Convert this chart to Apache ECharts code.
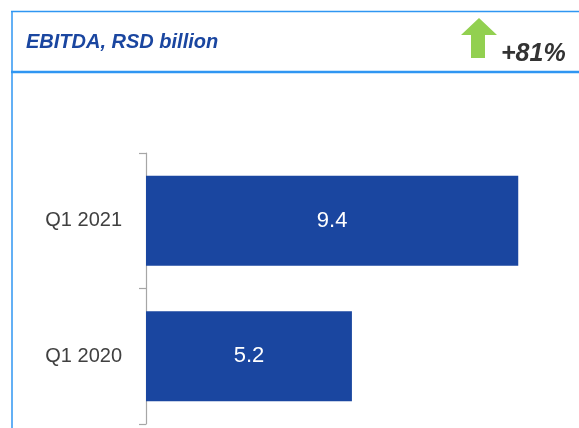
<!DOCTYPE html>
<html>
<head>
<meta charset="utf-8">
<script src="https://cdn.jsdelivr.net/npm/echarts@6/dist/echarts.min.js"></script>
<style>
html,body{margin:0;padding:0;background:#fff;}
#main{width:579px;height:428px;}
</style>
</head>
<body>
<div id="main"></div>
<script>
var categories = ['Q1 2020', 'Q1 2021'];
var values = [5.2, 9.4];
var titleText = 'EBITDA, RSD billion';
var changeText = '+81%';

var chart = echarts.init(document.getElementById('main'), null, {renderer: 'canvas'});
var borderColor = '#2f96f2';
var barColor = '#1a46a0';

chart.setOption({
  backgroundColor: '#ffffff',
  animation: false,
  title: {
    text: titleText,
    left: 21,
    top: 27,
    textStyle: {
      fontFamily: 'Liberation Sans',
      fontSize: 20,
      fontStyle: 'italic',
      fontWeight: 'bold',
      color: '#1a46a0'
    }
  },
  grid: {
    left: 146,
    top: 153,
    width: 396,
    height: 271
  },
  xAxis: {
    type: 'value',
    min: 0,
    max: 10,
    show: false
  },
  yAxis: {
    type: 'category',
    data: categories,
    axisLine: {show: true, lineStyle: {color: '#a6a6a6', width: 1.2}},
    axisTick: {show: true, length: 7, lineStyle: {color: '#a6a6a6', width: 1.2}},
    axisLabel: {
      margin: 24,
      fontFamily: 'Liberation Sans',
      fontSize: 20,
      color: '#404040'
    },
    splitLine: {show: false}
  },
  series: [{
    type: 'bar',
    data: values,
    barWidth: 90,
    itemStyle: {color: barColor},
    label: {
      show: true,
      position: 'inside',
      fontFamily: 'Liberation Sans',
      fontSize: 22,
      color: '#ffffff',
      formatter: function (p) { return p.value.toFixed(1); }
    }
  }],
  graphic: [
    {type: 'line', shape: {x1: 11, y1: 11.5, x2: 579, y2: 11.5}, style: {stroke: borderColor, lineWidth: 1.5}},
    {type: 'line', shape: {x1: 12, y1: 11, x2: 12, y2: 428}, style: {stroke: borderColor, lineWidth: 1.5}},
    {type: 'line', shape: {x1: 11, y1: 72, x2: 579, y2: 72}, style: {stroke: borderColor, lineWidth: 2.5}},
    {type: 'polygon', shape: {points: [[461, 35], [479, 18], [497, 35], [485, 35], [485, 58], [471, 58], [471, 35]]}, style: {fill: '#92d050'}},
    {type: 'text', left: 501, top: 42, style: {text: changeText, fontFamily: 'Liberation Sans', fontSize: 25, fontStyle: 'italic', fontWeight: 'bold', fill: '#333333'}}
  ]
});
</script>
</body>
</html>
